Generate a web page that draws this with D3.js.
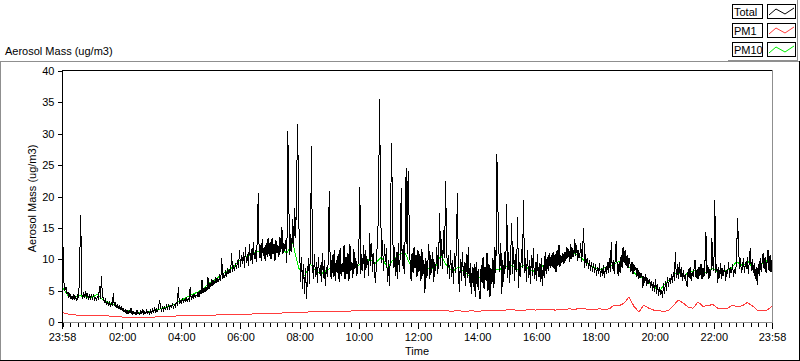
<!DOCTYPE html>
<html>
<head>
<meta charset="utf-8">
<script src="https://cdn.jsdelivr.net/npm/d3@7"></script>
<style>
	body { margin: 0; background: #fff; }
	svg { display: block; }
	text { font-family: "Liberation Sans", Arial, sans-serif; font-size: 11px; fill: #000; }
</style>
</head>
<body>
<div id="chart"></div>
<script>

///////////////////////////////////////////////////////////////////////////
///////////////////////////////// Data ////////////////////////////////////
///////////////////////////////////////////////////////////////////////////

//Total mass, one value every 2 minutes, one row per hour starting 23:58
var totalVals = [
	19, 12, 6.2, 5.0, 5.6, 4.4, 4.8, 3.9, 4.6, 3.6, 4.2, 3.5, 4.4, 3.7, 4.0, 3.4, 4.2, 3.8, 10.0, 17.0, 4.6, 3.6, 4.8, 3.8, 5.0, 3.7, 4.6, 3.5, 4.4, 3.8,
	4.2, 3.6, 4.4, 3.4, 4.0, 3.3, 4.2, 3.5, 5.8, 3.6, 7.4, 4.0, 3.8, 3.2, 3.6, 2.8, 3.4, 2.7, 3.2, 2.6, 3.0, 2.5, 4.6, 2.6, 3.0, 2.3, 2.8, 2.2, 2.6, 2.0,
	2.4, 1.8, 2.2, 1.6, 2.0, 1.4, 1.9, 1.3, 1.8, 1.5, 2.2, 1.2, 1.7, 1.3, 1.6, 1.1, 1.9, 1.3, 1.5, 1.2, 1.8, 1.4, 2.0, 1.2, 1.6, 1.3, 1.9, 1.4, 1.7, 1.3,
	1.9, 1.4, 2.1, 1.6, 2.3, 1.5, 2.0, 1.7, 2.4, 3.5, 2.2, 1.8, 2.5, 1.9, 2.3, 2.0, 2.6, 2.1, 2.8, 2.2, 2.6, 2.4, 3.0, 2.3, 2.8, 2.5, 3.2, 2.6, 5.6, 2.9,
	3.4, 2.9, 3.8, 3.1, 3.6, 3.3, 4.0, 3.2, 3.8, 3.5, 5.6, 3.6, 4.2, 3.7, 4.5, 3.9, 4.3, 4.1, 4.8, 4.0, 5.0, 4.4, 6.7, 4.6, 5.4, 4.8, 5.6, 5.0, 7.2, 5.2,
	6.2, 5.6, 6.8, 5.8, 6.6, 6.0, 7.2, 6.2, 7.0, 6.4, 7.6, 6.6, 10.2, 6.8, 7.8, 7.0, 8.2, 7.2, 8.6, 7.6, 8.4, 7.8, 11.0, 8.0, 9.0, 8.2, 9.4, 8.4, 9.8, 8.6,
	11.5, 8.8, 10.6, 9.2, 11.2, 8.6, 12.0, 9.4, 10.8, 9.0, 12.4, 9.8, 11.6, 9.2, 12.8, 10.0, 11.4, 9.6, 13.0, 20.5, 10.2, 12.2, 9.8, 13.2, 10.6, 12.0, 9.8, 12.6, 10.4, 13.4,
	10.6, 12.8, 10.0, 13.4, 10.8, 12.4, 9.8, 13.0, 11.0, 12.2, 10.4, 13.6, 11.2, 15.1, 10.8, 12.6, 11.4, 13.0, 9.4, 30.4, 19.0, 10.6, 14.0, 11.2, 16.4, 12.0, 18.2, 13.4, 23.0, 31.5,
	17.0, 11.0, 6.4, 10.4, 5.2, 9.2, 4.4, 8.6, 3.6, 7.8, 10.2, 6.0, 12.4, 28.0, 9.0, 6.8, 10.8, 7.2, 9.6, 6.2, 10.4, 7.6, 9.0, 6.4, 11.0, 7.0, 9.8, 5.8, 8.8, 7.2,
	9.6, 20.8, 8.4, 6.8, 10.6, 7.2, 11.4, 6.6, 9.8, 7.8, 10.8, 6.4, 11.8, 7.4, 9.4, 8.0, 12.2, 6.8, 10.4, 7.6, 11.0, 6.6, 12.4, 8.2, 9.6, 7.0, 11.6, 8.4, 10.2, 7.4,
	8.8, 11.2, 21.5, 7.6, 10.8, 8.2, 12.2, 7.0, 11.4, 8.6, 10.0, 7.4, 14.2, 9.0, 12.6, 8.0, 11.0, 7.6, 6.2, 10.4, 13.0, 18.0, 35.5, 20.7, 9.4, 13.0, 8.2, 12.4, 9.6, 11.8,
	6.4, 9.8, 5.8, 10.6, 28.5, 20.2, 8.6, 12.0, 7.4, 11.2, 6.8, 12.6, 8.0, 10.4, 21.4, 9.0, 12.2, 7.6, 13.6, 24.5, 10.8, 24.0, 16.2, 9.4, 6.6, 11.0, 7.8, 12.0, 8.6, 10.6,
	7.2, 11.4, 8.0, 10.8, 6.6, 11.6, 7.4, 9.8, 4.6, 10.2, 7.0, 9.4, 12.4, 6.8, 10.6, 7.8, 11.2, 6.4, 9.6, 8.2, 12.0, 7.6, 10.4, 17.4, 9.0, 13.2, 8.4, 14.6, 10.2, 22.5,
	12.2, 7.6, 10.6, 6.8, 11.4, 7.2, 9.8, 6.0, 11.0, 7.8, 12.4, 20.5, 8.2, 4.8, 10.0, 6.6, 11.2, 7.4, 9.6, 5.8, 10.8, 7.0, 12.0, 6.2, 9.4, 4.4, 8.8, 5.6, 9.2, 4.0,
	9.6, 5.6, 8.4, 4.6, 3.6, 9.0, 6.2, 10.4, 5.2, 8.8, 6.6, 11.0, 5.0, 9.2, 4.0, 8.6, 6.0, 10.2, 5.4, 12.0, 7.8, 26.8, 18.6, 11.4, 8.0, 12.6, 4.4, 9.8, 6.4, 11.2,
	8.4, 18.8, 7.0, 11.2, 6.2, 10.4, 15.8, 7.6, 12.0, 6.6, 10.8, 8.0, 16.7, 5.4, 9.6, 7.2, 11.6, 8.6, 19.4, 7.8, 10.2, 6.4, 11.4, 7.0, 9.8, 6.0, 10.6, 7.4, 11.8, 6.8,
	9.6, 6.6, 10.8, 7.2, 9.4, 6.4, 10.2, 5.8, 9.0, 7.0, 11.2, 7.6, 10.4, 8.2, 11.0, 8.6, 10.6, 8.8, 11.2, 8.4, 10.8, 8.0, 11.4, 9.0, 12.3, 8.8, 10.6, 9.4, 11.0, 9.2,
	11.2, 9.8, 12.0, 10.2, 11.6, 9.6, 12.4, 10.0, 11.8, 10.4, 13.2, 10.6, 12.2, 9.8, 11.4, 10.2, 12.6, 9.6, 11.8, 15.0, 8.6, 10.8, 9.0, 10.2, 8.4, 9.8, 8.2, 9.6, 8.0, 9.4,
	7.8, 9.2, 7.4, 8.8, 7.6, 9.4, 7.2, 8.6, 7.4, 9.0, 7.0, 8.8, 7.6, 9.6, 7.8, 10.2, 8.0, 12.7, 8.4, 9.8, 7.6, 10.0, 12.9, 8.8, 7.4, 9.6, 7.8, 10.6, 8.6, 12.0,
	9.4, 11.4, 9.0, 10.6, 8.6, 10.2, 9.2, 8.0, 9.6, 7.6, 9.2, 8.2, 8.8, 7.2, 8.6, 6.8, 8.0, 7.0, 7.8, 5.4, 7.4, 6.2, 7.6, 5.8, 7.0, 6.0, 6.8, 5.4, 6.6, 5.0,
	6.4, 4.8, 6.8, 4.4, 6.0, 4.2, 5.6, 4.6, 5.0, 3.8, 6.2, 4.4, 6.6, 5.0, 7.2, 5.6, 7.0, 6.0, 7.6, 6.2, 8.0, 6.6, 11.2, 7.0, 9.2, 6.8, 9.6, 7.2, 8.8, 6.6,
	8.2, 6.8, 7.6, 6.2, 5.6, 8.4, 7.0, 8.8, 6.6, 8.0, 7.2, 8.6, 9.9, 7.0, 8.4, 6.8, 8.8, 7.4, 9.2, 6.8, 8.6, 7.2, 9.4, 14.3, 7.6, 9.0, 6.8, 8.4, 7.4, 13.4,
	9.0, 8.2, 19.4, 7.8, 9.2, 6.2, 8.8, 7.0, 9.4, 6.8, 8.6, 7.4, 9.0, 6.6, 8.2, 7.6, 9.6, 7.0, 8.8, 7.8, 9.2, 7.2, 8.4, 7.6, 9.8, 16.6, 12.7, 8.4, 10.2, 7.8,
	8.6, 10.2, 7.8, 9.6, 8.4, 10.4, 7.6, 9.8, 11.8, 8.2, 10.0, 7.8, 9.4, 6.8, 8.8, 5.9, 9.2, 7.4, 10.2, 8.0, 9.6, 11.0, 8.4, 10.4, 7.8, 9.6, 11.5, 8.2, 10.6, 8.0,
	9.8
];

//PM10, one value every 12 minutes
var pm10Vals = [
	5.6, 4.2, 4.0, 4.2, 4.0,
	3.9, 4.4, 3.4, 3.0, 2.8,
	2.0, 1.8, 1.6, 1.5, 1.5,
	1.7, 1.9, 2.2, 2.5, 2.8,
	3.4, 3.9, 4.4, 4.8, 5.4,
	6.3, 6.8, 7.6, 8.2, 8.8,
	9.8, 10.4, 10.8, 11.2, 11.6,
	11.4, 11.2, 11.8, 11.0, 12.6,
	8.6, 7.4, 9.2, 8.0, 7.8,
	8.4, 9.0, 8.8, 8.6, 9.2,
	9.0, 9.4, 10.0, 9.4, 10.4,
	8.6, 10.0, 10.8, 11.0, 8.8,
	8.6, 7.8, 8.6, 8.4, 10.6,
	9.0, 8.0, 8.8, 8.0, 7.2,
	7.2, 7.0, 7.2, 8.4, 8.4,
	8.8, 9.0, 8.4, 9.0, 8.4,
	8.0, 8.8, 9.4, 9.2, 10.0,
	10.6, 11.2, 10.8, 10.0, 9.2,
	8.6, 8.4, 8.8, 9.0, 9.6,
	9.8, 8.6, 7.6, 7.0, 6.4,
	5.6, 5.0, 6.2, 7.0, 8.0,
	7.2, 8.0, 8.2, 8.0, 7.8,
	8.6, 7.8, 8.2, 8.4, 9.6,
	9.0, 9.6, 8.0, 9.0, 9.8,
	9.0
];

//PM1, one value every 10 minutes
var pm1Vals = [
	1.5, 1.3, 1.2, 1.1, 1.1, 1.1,
	1.0, 1.0, 1.0, 1.0, 0.9, 0.9,
	0.8, 0.75, 0.7, 0.7, 0.7, 0.7,
	0.75, 0.8, 0.9, 0.95, 0.95, 0.95,
	1.0, 1.0, 1.0, 1.05, 1.05, 1.1,
	1.1, 1.1, 1.15, 1.15, 1.2, 1.2,
	1.2, 1.25, 1.25, 1.3, 1.3, 1.3,
	1.35, 1.4, 1.4, 1.45, 1.5, 1.5,
	1.5, 1.55, 1.6, 1.6, 1.6, 1.65,
	1.7, 1.7, 1.7, 1.75, 1.7, 1.8,
	1.8, 1.75, 1.8, 1.85, 1.8, 1.8,
	1.85, 1.8, 1.9, 1.85, 1.8, 1.9,
	1.85, 1.8, 1.9, 1.8, 1.85, 1.9,
	1.8, 1.7, 1.8, 1.75, 1.7, 1.8,
	1.7, 1.75, 1.8, 1.9, 1.85, 1.8,
	1.9, 2.0, 1.9, 1.85, 1.9, 2.0,
	1.9, 1.95, 2.0, 2.0, 1.9, 2.0,
	2.0, 2.1, 2.0, 2.2, 2.1, 2.0,
	2.0, 2.1, 2.0, 2.1, 2.7, 2.6,
	3.0, 4.0, 2.5, 1.6, 2.7, 2.2,
	1.9, 1.8, 1.7, 1.8, 2.6, 3.5,
	3.0, 2.4, 2.2, 3.2, 2.5, 2.6,
	2.8, 2.2, 2.2, 2.2, 2.7, 2.4,
	2.6, 3.1, 2.6, 1.9, 1.9, 1.9,
	2.5
];

var yTicks = [0, 5, 10, 15, 20, 25, 30, 35, 40];
var legendNames = ["Total", "PM1", "PM10"];
var legendColors = ["#000000", "#ff3c3c", "#00ee00"];

///////////////////////////////////////////////////////////////////////////
//////////////////// Set up and initiate svg containers ///////////////////
///////////////////////////////////////////////////////////////////////////

var width = 800,
	height = 361;

var svg = d3.select("#chart")
	.append("svg")
	.attr("width", width)
	.attr("height", height);

var plot = { left: 62, right: 772, top: 71, bottom: 322 };

var tStart = new Date(2000, 0, 1, 23, 58),
	tEnd = new Date(2000, 0, 2, 23, 58);

var x = d3.scaleTime()
	.domain([tStart, tEnd])
	.range([plot.left, plot.right]);

var y = d3.scaleLinear()
	.domain([0, 40])
	.range([plot.bottom, plot.top]);

//Attach time stamps to each series
function toSeries(vals, stepMin) {
	return vals.map(function(v, i) {
		return { t: d3.timeMinute.offset(tStart, i * stepMin), v: v };
	});
}
var totalData = toSeries(totalVals, 2),
	pm10Data = toSeries(pm10Vals, 12),
	pm1Data = toSeries(pm1Vals, 10);

///////////////////////////////////////////////////////////////////////////
///////////////////////////// Panel frames ////////////////////////////////
///////////////////////////////////////////////////////////////////////////

var frame = svg.append("g").attr("class", "frame");

function hLine(g, x1, x2, yy, col) {
	g.append("line").attr("x1", x1).attr("x2", x2).attr("y1", yy).attr("y2", yy)
		.style("stroke", col).style("stroke-width", 1);
}
function vLine(g, xx, y1, y2, col) {
	g.append("line").attr("x1", xx).attr("x2", xx).attr("y1", y1).attr("y2", y2)
		.style("stroke", col).style("stroke-width", 1);
}

//Outer panel
hLine(frame, 0, 799, 61.5, "#8f8f8f");
vLine(frame, 0.5, 61, 361, "#8f8f8f");
vLine(frame, 799.5, 61, 361, "#000");
hLine(frame, 0, 800, 360.5, "#000");

//Legend panel
vLine(frame, 797.5, 0, 61, "#8f8f8f");
hLine(frame, 728, 798, 60.5, "#8f8f8f");

//Title
svg.append("text")
	.attr("x", 5)
	.attr("y", 55)
	.text("Aerosol Mass (ug/m3)");

///////////////////////////////////////////////////////////////////////////
//////////////////////////////// Axes /////////////////////////////////////
///////////////////////////////////////////////////////////////////////////

var yAxis = d3.axisLeft(y)
	.tickValues(yTicks)
	.tickSize(4)
	.tickPadding(3)
	.tickSizeOuter(0);

var yAxisG = svg.append("g")
	.attr("transform", "translate(" + (plot.left - 0.5) + ",0)")
	.call(yAxis);
yAxisG.select(".domain").remove();
yAxisG.selectAll("text").style("font-family", "Liberation Sans, Arial, sans-serif").style("font-size", "11px");

//Minor ticks every quarter hour, labelled ticks every two hours plus both ends
var minorTicks = d3.timeMinute.every(15).range(tStart, d3.timeMinute.offset(tEnd, 1));
var majorTicks = [tStart]
	.concat(d3.timeHour.every(2).range(d3.timeMinute.offset(tStart, 61), tEnd))
	.concat([tEnd]);

var xMinor = d3.axisBottom(x)
	.tickValues(minorTicks)
	.tickSize(4)
	.tickFormat("")
	.tickSizeOuter(0);

var xMajor = d3.axisBottom(x)
	.tickValues(majorTicks)
	.tickSize(6)
	.tickPadding(4)
	.tickFormat(d3.timeFormat("%H:%M"))
	.tickSizeOuter(0);

var xMinorG = svg.append("g")
	.attr("transform", "translate(0," + (plot.bottom + 1) + ")")
	.call(xMinor);
xMinorG.select(".domain").remove();

var xMajorG = svg.append("g")
	.attr("transform", "translate(0," + (plot.bottom + 1) + ")")
	.call(xMajor);
xMajorG.select(".domain").remove();
xMajorG.selectAll("text").style("font-family", "Liberation Sans, Arial, sans-serif").style("font-size", "11px");

svg.selectAll(".tick line").attr("shape-rendering", "crispEdges");

//Axis titles
svg.append("text")
	.attr("transform", "translate(36," + ((plot.top + plot.bottom) / 2 + 2) + ") rotate(-90)")
	.style("text-anchor", "middle")
	.text("Aerosol Mass (ug/m3)");

svg.append("text")
	.attr("x", (plot.left + plot.right) / 2)
	.attr("y", 355)
	.style("text-anchor", "middle")
	.text("Time");

///////////////////////////////////////////////////////////////////////////
//////////////////////////////// Lines ////////////////////////////////////
///////////////////////////////////////////////////////////////////////////

var line = d3.line()
	.x(function(d) { return x(d.t); })
	.y(function(d) { return y(d.v); });

var lines = svg.append("g").attr("class", "lines");

lines.append("path")
	.datum(pm10Data)
	.attr("d", line)
	.attr("shape-rendering", "crispEdges")
	.style("fill", "none")
	.style("stroke", legendColors[2])
	.style("stroke-width", 1);

lines.append("path")
	.datum(totalData)
	.attr("d", line)
	.attr("shape-rendering", "crispEdges")
	.style("fill", "none")
	.style("stroke", legendColors[0])
	.style("stroke-width", 1);

lines.append("path")
	.datum(pm1Data)
	.attr("d", line)
	.attr("shape-rendering", "crispEdges")
	.style("fill", "none")
	.style("stroke", legendColors[1])
	.style("stroke-width", 1);

//Plot frame: dark top/left, grey bottom/right
hLine(svg, plot.left, plot.right + 1, plot.top - 0.5, "#000");
vLine(svg, plot.left + 0.5, plot.top - 1, plot.bottom + 1, "#000");
vLine(svg, plot.right + 0.5, plot.top - 1, plot.bottom + 1, "#8f8f8f");
hLine(svg, plot.left + 1, plot.right + 1, plot.bottom + 0.5, "#8f8f8f");

///////////////////////////////////////////////////////////////////////////
/////////////////////////////// Legend ////////////////////////////////////
///////////////////////////////////////////////////////////////////////////

var legend = svg.append("g").attr("class", "legend");

var legendRow = legend.selectAll(".legendRow")
	.data(legendNames)
	.enter().append("g")
	.attr("class", "legendRow")
	.attr("transform", function(d, i) { return "translate(0," + (4 + i * 19) + ")"; });

legendRow.append("rect")
	.attr("x", 732.5)
	.attr("y", 0.5)
	.attr("width", 30)
	.attr("height", 14)
	.style("fill", "#fff")
	.style("stroke", "#000");

legendRow.append("text")
	.attr("x", 734)
	.attr("y", 11.5)
	.text(function(d) { return d; });

legendRow.append("rect")
	.attr("x", 767.5)
	.attr("y", 0.5)
	.attr("width", 28)
	.attr("height", 14)
	.style("fill", "#fff")
	.style("stroke", "#000");

legendRow.append("path")
	.attr("d", "M769,11L776,5L785,10L794,4")
	.style("fill", "none")
	.style("stroke", function(d, i) { return legendColors[i]; })
	.style("stroke-width", 1);

</script>
</body>
</html>
